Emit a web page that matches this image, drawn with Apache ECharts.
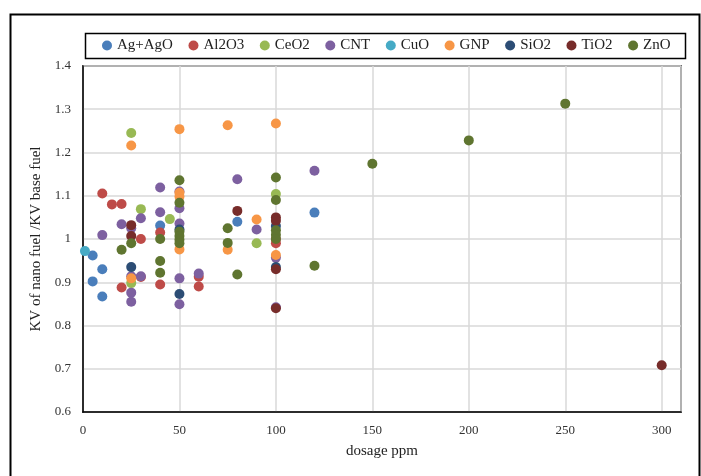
<!DOCTYPE html>
<html>
<head>
<meta charset="utf-8">
<script src="https://cdn.jsdelivr.net/npm/echarts@6/dist/echarts.min.js"></script>
<style>
  html, body { margin: 0; padding: 0; background: #fff; }
  #main { width: 701px; height: 476px; }
</style>
</head>
<body>
<div id="main"></div>
<script>
// [dosage ppm, KV nano fuel / KV base fuel]
var agAgO = [[5, 0.962], [5, 0.902], [10, 0.93], [10, 0.867], [40, 1.031], [80, 1.04], [120, 1.061]];
var al2o3 = [[10, 1.105], [15, 1.08], [20, 1.081], [20, 0.888], [30, 1.0], [30, 0.912], [40, 1.015],
    [40, 0.895], [60, 0.913], [60, 0.89], [100, 1.0], [100, 0.99]];
var ceo2 = [[25, 1.245], [25, 0.898], [30, 1.069], [45, 1.046], [90, 0.99], [100, 1.104]];
var cnt = [[10, 1.009], [20, 1.034], [25, 1.025], [25, 0.914], [25, 0.876], [25, 0.855], [30, 1.048],
    [30, 0.914], [40, 1.119], [40, 1.062], [50, 1.11], [50, 1.071], [50, 1.036], [50, 0.909],
    [50, 0.849], [60, 0.92], [80, 1.138], [90, 1.022], [100, 0.957], [100, 0.842], [120, 1.158]];
var cuo = [[1, 0.972]];
var gnp = [[25, 1.216], [25, 0.909], [50, 1.254], [50, 1.107], [50, 1.098], [50, 0.976], [75, 1.263],
    [75, 0.975], [90, 1.045], [100, 1.267], [100, 0.963]];
var sio2 = [[25, 0.935], [50, 1.022], [50, 0.873], [100, 1.03], [100, 0.935]];
var tio2 = [[25, 1.032], [25, 1.007], [80, 1.065], [100, 1.05], [100, 1.042], [100, 0.93], [100, 0.84], [300, 0.708]];
var zno = [[20, 0.975], [25, 0.99], [40, 1.0], [40, 0.949], [40, 0.922], [50, 1.136], [50, 1.084],
    [50, 1.017], [50, 1.007], [50, 0.998], [50, 0.99], [75, 1.025], [75, 0.991], [80, 0.918],
    [100, 1.142], [100, 1.09], [100, 1.02], [100, 1.01], [100, 1.0], [120, 0.938], [150, 1.174],
    [200, 1.228], [250, 1.313]];

var names = ['Ag+AgO', 'Al2O3', 'CeO2', 'CNT', 'CuO', 'GNP', 'SiO2', 'TiO2', 'ZnO'];
var datas = [agAgO, al2o3, ceo2, cnt, cuo, gnp, sio2, tio2, zno];
var colors = ['#4a7ebb', '#be4b48', '#98b954', '#7d60a0', '#46aac5', '#f79646', '#2c4d75', '#772c2a', '#5f7530'];

var font = '"Liberation Serif", "Times New Roman", serif';

var myChart = echarts.init(document.getElementById('main'));

var series = names.map(function (n, i) {
    return {
        name: n,
        type: 'scatter',
        data: datas[i],
        symbol: 'circle',
        symbolSize: 10,
        itemStyle: { color: colors[i], opacity: 1 }
    };
});

option = {
    animation: false,
    backgroundColor: '#fff',
    color: colors,
    graphic: [
        // outer chart border
        { type: 'rect', left: 8, top: 12, shape: { width: 689, height: 480 },
          style: { fill: 'none', stroke: '#000', lineWidth: 2 }, z: 100 },
        // legend box
        { type: 'rect', left: 83, top: 31, shape: { width: 600, height: 25 },
          style: { fill: 'none', stroke: '#000', lineWidth: 1.5 }, z: 100 }
    ],
    legend: {
        left: 97,
        top: 33,
        itemGap: 15.5,
        itemWidth: 10,
        itemHeight: 10,
        icon: 'circle',
        itemTextGap: 2,
        data: names,
        textStyle: { fontFamily: font, fontSize: 15, color: '#222' }
    },
    grid: {
        left: 83,
        right: 20,
        top: 66,
        bottom: 64,
        show: true,
        borderColor: '#000',
        borderWidth: 1.5
    },
    xAxis: {
        type: 'value',
        min: 0,
        max: 310,
        interval: 50,
        name: 'dosage ppm',
        nameLocation: 'middle',
        nameGap: 32,
        nameTextStyle: { fontFamily: font, fontSize: 15, color: '#222' },
        axisLine: { onZero: false, lineStyle: { color: '#000', width: 1.5 } },
        axisTick: { show: false },
        axisLabel: { showMaxLabel: false, margin: 12, fontFamily: font, fontSize: 13, color: '#333' },
        splitLine: { show: true, lineStyle: { color: '#d9d9d9', width: 1.5 } }
    },
    yAxis: {
        type: 'value',
        min: 0.6,
        max: 1.4,
        interval: 0.1,
        name: 'KV of nano fuel /KV base fuel',
        nameLocation: 'middle',
        nameGap: 31,
        nameTextStyle: { fontFamily: font, fontSize: 15, color: '#222' },
        axisLine: { show: true, lineStyle: { color: '#000', width: 1.5 } },
        axisTick: { show: false },
        axisLabel: {
            margin: 12, fontFamily: font, fontSize: 13, color: '#333',
            formatter: function (v) { return String(Math.round(v * 10) / 10); }
        },
        splitLine: { show: true, lineStyle: { color: '#d9d9d9', width: 1.5 } }
    },
    series: series
};

myChart.setOption(option);
</script>
</body>
</html>
